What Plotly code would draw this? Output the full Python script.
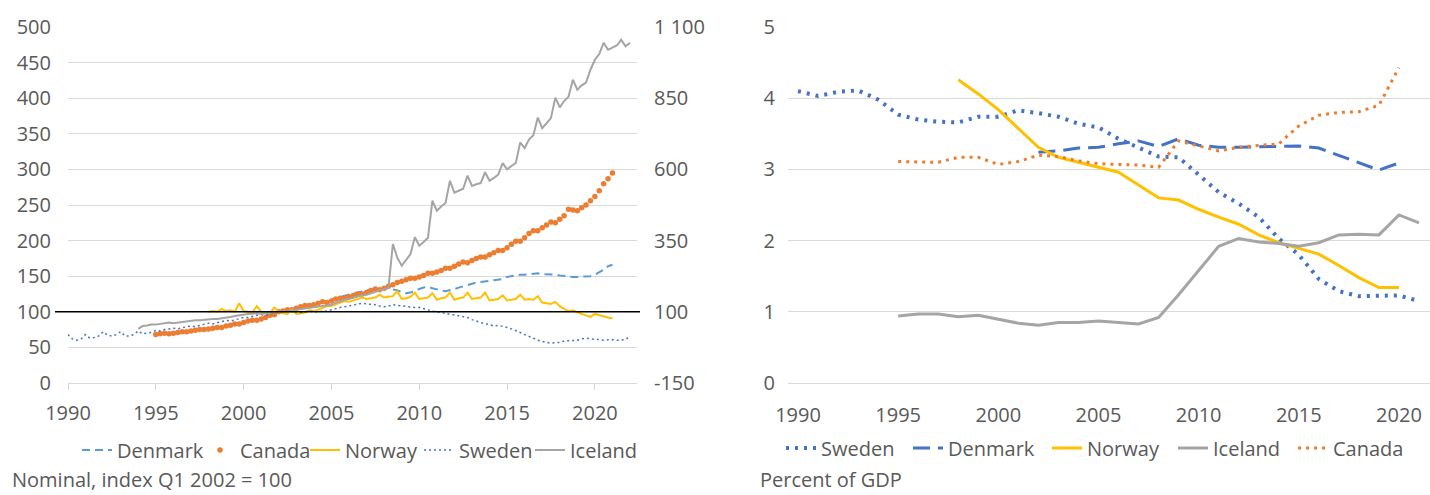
import pandas as pd
import plotly.graph_objects as go

# ---------------- Left chart: quarterly indices (Q1 2002 = 100) ----------------
denmark_start = "2002Q1"
denmark_idx = [
    100, 101, 102, 103, 105, 106, 108, 109, 110, 112, 114, 115, 117, 119, 121, 122,
    124, 126, 127, 129, 130, 131, 131, 132, 132, 133, 132, 130, 128, 126, 127, 130,
    132, 134, 135, 133, 131, 130, 129, 130, 132, 134, 136, 138, 139, 141, 142, 143,
    143, 144, 145, 146, 149, 150, 152, 152, 152, 153, 154, 154, 153, 153, 152, 152,
    151, 150, 149, 149, 149, 149, 150, 150, 152, 155, 159, 164, 166,
]

canada_start = "1995Q1"
canada_idx = [
    68, 69, 70, 69, 70, 71, 72, 72, 73, 74, 75, 75, 76, 77, 78, 78,
    80, 81, 83, 83, 85, 87, 88, 88, 90, 92, 95, 96, 100, 101, 103, 103,
    105, 107, 109, 109, 110, 112, 114, 113, 115, 118, 119, 119, 121, 123, 125, 125,
    127, 130, 132, 131, 133, 136, 138, 141, 143, 145, 147, 147, 149, 151, 154, 154,
    156, 158, 161, 161, 164, 167, 170, 169, 172, 175, 177, 177, 180, 183, 186, 186,
    190, 195, 199, 199, 204, 210, 214, 214, 218, 222, 226, 225, 230, 235, 244, 243,
    242, 246, 250, 256, 262, 270, 280, 287, 295,
]

norway_start = "1998Q1"
norway_idx = [
    100, 101, 100, 104, 101, 102, 100, 112, 101, 100, 99, 108, 100, 99, 98, 106,
    100, 98, 97, 103, 97, 98, 99, 102, 101, 103, 105, 108, 108, 110, 112, 115,
    114, 116, 117, 120, 118, 119, 120, 124, 120, 121, 122, 129, 118, 119, 121, 127,
    118, 119, 120, 126, 117, 119, 120, 127, 117, 119, 120, 127, 118, 119, 120, 127,
    116, 117, 118, 123, 116, 117, 118, 124, 117, 118, 117, 122, 113, 112, 111, 114,
    108, 104, 101, 102, 99, 97, 95, 93, 97, 95, 94, 92, 91,
]

sweden_start = "1990Q1"
sweden_idx = [
    68, 62, 60, 62, 68, 63, 64, 66, 72, 67, 66, 68, 72, 66, 66, 68,
    73, 69, 70, 71, 74, 73, 75, 76, 77, 76, 78, 79, 80, 79, 81, 82,
    84, 83, 85, 86, 88, 87, 89, 90, 92, 92, 94, 95, 96, 95, 97, 98,
    100, 99, 101, 101, 100, 99, 100, 101, 100, 100, 101, 101, 103, 105, 106, 107,
    108, 109, 111, 112, 111, 111, 110, 108, 107, 108, 110, 109, 108, 107, 107, 106,
    106, 104, 103, 101, 100, 99, 97, 96, 95, 94, 93, 92, 89, 87, 85, 83,
    82, 80, 81, 80, 78, 76, 74, 71, 68, 66, 63, 60, 58, 57, 56, 56,
    57, 59, 59, 59, 60, 62, 63, 62, 62, 61, 60, 61, 61, 60, 60, 61,
    66,
]

# Iceland is read on the right-hand axis
iceland_start = "1994Q1"
iceland_idx = [
    40, 50, 52, 55, 55, 57, 60, 62, 60, 62, 65, 67, 67, 70, 70, 72,
    72, 75, 75, 77, 78, 82, 85, 88, 90, 92, 93, 95, 92, 95, 97, 99,
    100, 100, 102, 105, 107, 110, 112, 115, 115, 118, 120, 122, 125, 132, 138, 142,
    145, 150, 155, 158, 160, 165, 170, 175, 178, 185, 338, 290, 262, 280, 302, 362,
    332, 345, 360, 490, 455, 470, 482, 560, 518, 525, 532, 578, 542, 548, 552, 590,
    560, 570, 582, 622, 600, 612, 622, 695, 675, 705, 720, 782, 745, 762, 780, 852,
    818, 840, 855, 915, 880, 895, 905, 950, 985, 1005, 1045, 1020, 1028, 1035, 1055, 1032,
    1045,
]

left_y2_ticks = [-150, 100, 350, 600, 850, 1100]
left_y2_text = ["-150", "100", "350", "600", "850", "1 100"]
base_level = 100

# ---------------- Right chart: annual, percent of GDP ----------------
sweden_years = list(range(1990, 2022))
sweden_gdp = [4.10, 4.03, 4.09, 4.11, 3.98, 3.77, 3.70, 3.67, 3.66, 3.74, 3.74, 3.83, 3.79,
              3.74, 3.64, 3.59, 3.43, 3.30, 3.18, 3.17, 2.92, 2.68, 2.52, 2.33, 2.03, 1.80,
              1.46, 1.29, 1.22, 1.22, 1.23, 1.15]
denmark_years = list(range(2002, 2021))
denmark_gdp = [3.24, 3.26, 3.30, 3.31, 3.36, 3.40, 3.32, 3.43, 3.34, 3.31, 3.31, 3.32, 3.32,
               3.33, 3.30, 3.20, 3.10, 2.99, 3.09]
norway_years = list(range(1998, 2021))
norway_gdp = [4.26, 4.06, 3.84, 3.57, 3.31, 3.17, 3.10, 3.04, 2.96, 2.78, 2.60, 2.57, 2.44,
              2.33, 2.23, 2.08, 1.97, 1.89, 1.81, 1.65, 1.48, 1.34, 1.34]
iceland_years = list(range(1995, 2022))
iceland_gdp = [0.94, 0.97, 0.97, 0.93, 0.95, 0.90, 0.84, 0.81, 0.85, 0.85, 0.87, 0.85, 0.83,
               0.92, 1.24, 1.58, 1.92, 2.03, 1.98, 1.96, 1.92, 1.97, 2.08, 2.09, 2.08, 2.36,
               2.25]
canada_years = list(range(1995, 2021))
canada_gdp = [3.11, 3.10, 3.10, 3.17, 3.17, 3.07, 3.11, 3.20, 3.18, 3.12, 3.08, 3.07, 3.06,
              3.03, 3.40, 3.33, 3.26, 3.31, 3.34, 3.36, 3.61, 3.76, 3.80, 3.81, 3.90, 4.43]

left_note = "Nominal, index Q1 2002 = 100"
right_note = "Percent of GDP"

# ---------------- styling ----------------
FONT = "Open Sans"
TXT = "#595959"
GRID = "#D9D9D9"
C_LBLUE = "#5B9BD5"
C_BLUE = "#4472C4"
C_ORANGE = "#ED7D31"
C_GOLD = "#FFC000"
C_GRAY = "#A5A5A5"
W, H = 1430, 495

# legend entry left edges (px) for the left and right panel
LEG_L = [77, 200, 305, 419, 530]
LEG_R = [781, 908, 1047, 1173, 1293]


def qdates(start, n):
    return pd.period_range(start=start, periods=n, freq="Q").to_timestamp()


def leg_name(i):
    return "legend" if i == 1 else f"legend{i}"


fig = go.Figure()

# Left chart traces
fig.add_trace(go.Scatter(x=qdates(denmark_start, len(denmark_idx)), y=denmark_idx, name="Denmark",
                         mode="lines", line=dict(color=C_LBLUE, width=2, dash="8px,5px"),
                         xaxis="x", yaxis="y", legend=leg_name(1)))
fig.add_trace(go.Scatter(x=qdates(canada_start, len(canada_idx)), y=canada_idx, name="Canada",
                         mode="markers", marker=dict(color=C_ORANGE, size=5.5),
                         xaxis="x", yaxis="y", legend=leg_name(2)))
fig.add_trace(go.Scatter(x=qdates(norway_start, len(norway_idx)), y=norway_idx, name="Norway",
                         mode="lines", line=dict(color=C_GOLD, width=2),
                         xaxis="x", yaxis="y", legend=leg_name(3)))
fig.add_trace(go.Scatter(x=qdates(sweden_start, len(sweden_idx)), y=sweden_idx, name="Sweden",
                         mode="lines", line=dict(color=C_BLUE, width=1.5, dash="2px,3px"),
                         xaxis="x", yaxis="y", legend=leg_name(4)))
fig.add_trace(go.Scatter(x=qdates(iceland_start, len(iceland_idx)), y=iceland_idx, name="Iceland",
                         mode="lines", line=dict(color=C_GRAY, width=2),
                         xaxis="x", yaxis="y2", legend=leg_name(5)))

# Right chart traces
fig.add_trace(go.Scatter(x=sweden_years, y=sweden_gdp, name="Sweden", mode="lines",
                         line=dict(color=C_BLUE, width=4, dash="3px,6px"),
                         xaxis="x2", yaxis="y3", legend=leg_name(6)))
fig.add_trace(go.Scatter(x=denmark_years, y=denmark_gdp, name="Denmark", mode="lines",
                         line=dict(color=C_BLUE, width=3, dash="17px,8px"),
                         xaxis="x2", yaxis="y3", legend=leg_name(7)))
fig.add_trace(go.Scatter(x=norway_years, y=norway_gdp, name="Norway", mode="lines",
                         line=dict(color=C_GOLD, width=3),
                         xaxis="x2", yaxis="y3", legend=leg_name(8)))
fig.add_trace(go.Scatter(x=iceland_years, y=iceland_gdp, name="Iceland", mode="lines",
                         line=dict(color=C_GRAY, width=3),
                         xaxis="x2", yaxis="y3", legend=leg_name(9)))
fig.add_trace(go.Scatter(x=canada_years, y=canada_gdp, name="Canada", mode="lines",
                         line=dict(color=C_ORANGE, width=3, dash="3px,5px"),
                         xaxis="x2", yaxis="y3", legend=leg_name(10)))

ydom = [1 - 383 / H, 1 - 27 / H]
tickfont = dict(family=FONT, size=20, color=TXT)

legends = {}
for i, px in enumerate(LEG_L + LEG_R, start=1):
    ypx = 450 if i <= 5 else 448
    legends[leg_name(i)] = dict(orientation="h", x=px / W, xanchor="left", y=1 - ypx / H,
                                yanchor="middle", font=dict(family=FONT, size=20, color=TXT),
                                bgcolor="rgba(0,0,0,0)", itemwidth=30, borderwidth=0)

fig.update_layout(
    template="none",
    width=W, height=H,
    margin=dict(l=0, r=0, t=0, b=0, autoexpand=False),
    paper_bgcolor="white", plot_bgcolor="white",
    font=dict(family=FONT, size=20, color=TXT),
    xaxis=dict(domain=[68 / W, 637 / W], anchor="y", type="date", automargin=False,
               range=["1990-01-01", "2022-05-26"], tick0="1990-01-01", dtick="M60",
               tickformat="%Y", showgrid=False, zeroline=False, showline=True,
               linecolor=GRID, linewidth=1, ticks="outside", ticklen=6, tickcolor=GRID,
               tickfont=tickfont, ticklabelstandoff=6),
    yaxis=dict(domain=ydom, anchor="x", range=[0, 500], dtick=50, showgrid=True,
               automargin=False, gridcolor=GRID, gridwidth=1, zeroline=False,
               showline=False, ticks="", tickfont=tickfont, ticklabelstandoff=16),
    yaxis2=dict(domain=ydom, anchor="x", overlaying="y", side="right", range=[-150, 1100],
                automargin=False, tickvals=left_y2_ticks, ticktext=left_y2_text,
                showgrid=False, zeroline=False, showline=False, ticks="",
                tickfont=tickfont, ticklabelstandoff=16),
    xaxis2=dict(domain=[788 / W, 1.0], anchor="y3", range=[1989.5, 2021.55], tick0=1990,
                dtick=5, automargin=False, showgrid=False, zeroline=False, showline=True,
                linecolor=GRID, ticks="", tickfont=tickfont, ticklabelstandoff=14),
    yaxis3=dict(domain=ydom, anchor="x2", range=[0, 5], dtick=1, showgrid=True,
                automargin=False, gridcolor=GRID, gridwidth=1, zeroline=False,
                showline=False, ticks="", tickfont=tickfont, ticklabelstandoff=12),
    shapes=[dict(type="line", xref="paper", yref="y", x0=55 / W, x1=640 / W,
                 y0=base_level, y1=base_level, line=dict(color="black", width=1.5))],
    annotations=[
        dict(text=left_note, xref="paper", yref="paper", x=10 / W, y=0,
             xanchor="left", yanchor="bottom", showarrow=False,
             font=dict(family=FONT, size=20, color=TXT)),
        dict(text=right_note, xref="paper", yref="paper", x=758 / W, y=0,
             xanchor="left", yanchor="bottom", showarrow=False,
             font=dict(family=FONT, size=20, color=TXT)),
    ],
    showlegend=True,
    **legends,
)

fig.write_html("out.html", config={"displayModeBar": False},
               post_script="document.body.style.margin='0';")
